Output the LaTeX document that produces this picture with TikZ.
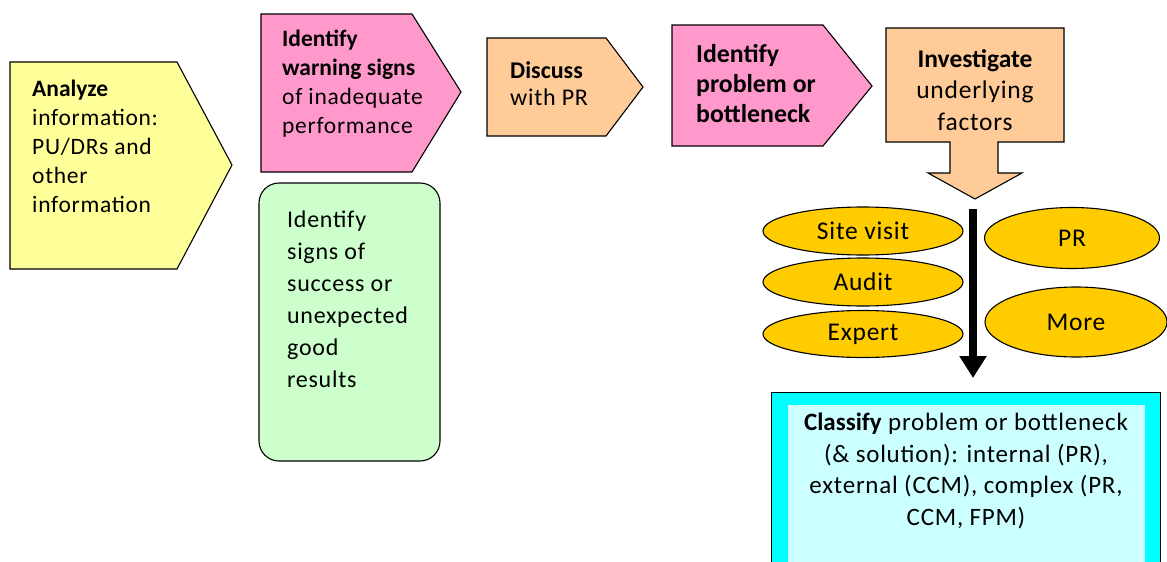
\documentclass[tikz,border=0pt]{standalone}
\usepackage{fontspec}
\setmainfont{Carlito}[LetterSpace=3, BoldFeatures={LetterSpace=0}]
\usetikzlibrary{arrows.meta,shapes.geometric}
\definecolor{cyellow}{HTML}{FFFF99}
\definecolor{cpink}{HTML}{FF99CC}
\definecolor{cpeach}{HTML}{FFCC99}
\definecolor{cgreen}{HTML}{CCFFCC}
\definecolor{cgold}{HTML}{FFCC00}
\definecolor{ccyan}{HTML}{00FFFF}
\definecolor{clcyan}{HTML}{CCFFFF}
\tikzset{
  shapeline/.style={draw=black, line width=1.1pt},
  txt/.style={inner sep=0pt, font=\fontsize{23.5}{29}\selectfont},
  lefttxt/.style={txt, align=left, anchor=west},
  oval/.style={ellipse, shapeline, fill=cgold, inner sep=0pt, font=\fontsize{25.5}{28}\selectfont},
  bigarrow/.style={line width=8pt, -{Triangle[width=26pt,length=22pt]}}
}
\begin{document}
\begin{tikzpicture}[x=1pt,y=-1pt]
\useasboundingbox (0,0) rectangle (1167,562);
\clip (0,0) rectangle (1167,562);
% Analyze
\draw[shapeline, fill=cyellow] (10,62) -- (177,62) -- (232,165) -- (177,269) -- (10,269) -- cycle;
\node[lefttxt] (analyze) at (32,146) {\textbf{Analyze}\\information:\\PU/DRs and\\other\\information};
% Warning signs
\draw[shapeline, fill=cpink] (261,14) -- (412,14) -- (461,92) -- (412,172) -- (261,172) -- cycle;
\node[lefttxt] (warning) at (282,84) {\textbf{Identify}\\\textbf{warning signs}\\of inadequate\\performance};
% Discuss
\draw[shapeline, fill=cpeach] (487,38) -- (606,38) -- (643,87) -- (606,136) -- (487,136) -- cycle;
\node[lefttxt, font=\fontsize{24}{27}\selectfont] (discuss) at (510,84) {\textbf{Discuss}\\with PR};
% Identify problem
\draw[shapeline, fill=cpink] (672,25) -- (823,25) -- (872,86) -- (823,146) -- (672,146) -- cycle;
\node[lefttxt, font=\bfseries\fontsize{25.8}{30}\selectfont] (problem) at (696,84) {Identify\\problem or\\bottleneck};
% Investigate down arrow
\draw[shapeline, fill=cpeach] (886,28) -- (1064,28) -- (1064,142) -- (998,142) -- (998,173) -- (1022,173) -- (975,199) -- (928,173) -- (950,173) -- (950,142) -- (886,142) -- cycle;
\node[txt, align=center, font=\fontsize{25.5}{31.5}\selectfont] (investigate) at (975,90) {\textbf{Investigate}\\underlying\\factors};
% Green box
\draw[shapeline, fill=cgreen, rounded corners=20pt] (259,183) rectangle (440,461);
\node[lefttxt, font=\fontsize{24}{32}\selectfont] (success) at (287,299) {Identify\\signs of\\success or\\unexpected\\good\\results};
% Ellipses
\node[oval, minimum width=200pt, minimum height=48pt] (site) at (863,231) {Site visit};
\node[oval, minimum width=200pt, minimum height=48pt] (audit) at (863,282) {Audit};
\node[oval, minimum width=200pt, minimum height=47pt] (expert) at (863,334) {Expert};
\node[oval, minimum width=175pt, minimum height=61pt] (pr) at (1072,238) {PR};
\node[oval, minimum width=182pt, minimum height=70pt] (more) at (1076,322) {More};
% Classify box
\node[shapeline, fill=ccyan, minimum width=389pt, minimum height=220pt, anchor=north west, inner sep=0pt] (classify) at (771,392) {};
\fill[clcyan] (788,405) rectangle (1145,620);
\node[txt, align=center, font=\fontsize{25}{31.5}\selectfont] (classifytxt) at (966,471) {\textbf{Classify} problem or bottleneck\\(\& solution): internal (PR),\\external (CCM), complex (PR,\\CCM, FPM)};
% Black arrow
\coordinate (arrowtop) at (973,209);
\coordinate (arrowtip) at (973,378);
\draw[bigarrow] (arrowtop) -- (arrowtip);
\end{tikzpicture}
\end{document}
